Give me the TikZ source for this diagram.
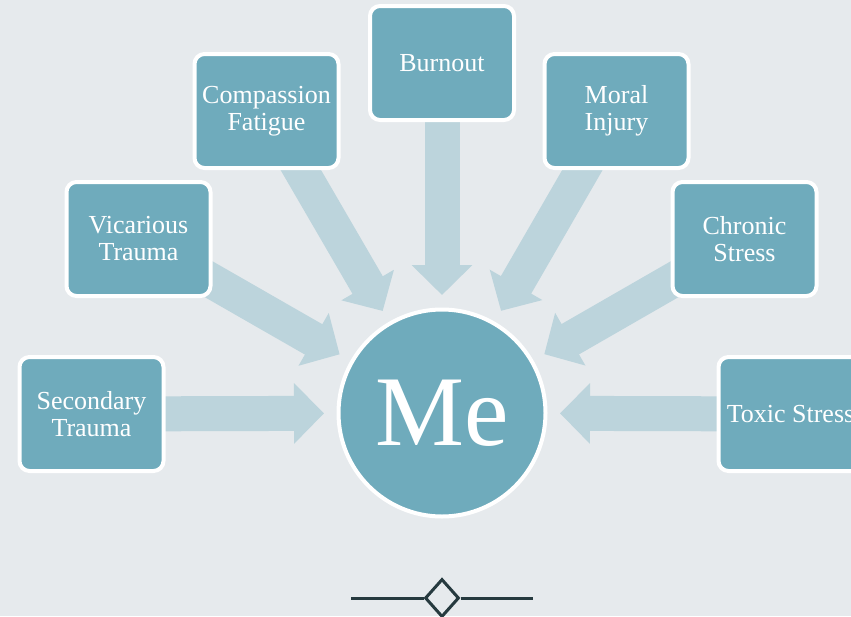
\documentclass[tikz,border=0pt]{standalone}
\usepackage{fontspec}
\setmainfont{Liberation Serif}
\usetikzlibrary{arrows.meta,calc,shapes.geometric}
\definecolor{pagebg}{HTML}{E6EAED}
\definecolor{boxteal}{HTML}{6FABBC}
\definecolor{flowblue}{HTML}{BCD4DC}
\definecolor{inkdark}{HTML}{263A3F}
\pgfdeclarelayer{back}
\pgfdeclarelayer{mid}
\pgfsetlayers{back,mid,main}
\begin{document}
\begin{tikzpicture}[x=1pt,y=-1pt,
  topic/.style={draw=white, line width=4pt, fill=boxteal, rounded corners=10pt,
    minimum width=144pt, minimum height=114pt, inner sep=0pt, text=white,
    font=\fontsize{26}{27}\selectfont, align=center},
  hub/.style={circle, draw=white, line width=4pt, fill=boxteal, minimum size=207pt,
    inner sep=0pt, text=white, font=\fontsize{100}{100}\selectfont},
  flow/.style={draw=flowblue, line width=35pt, -{Triangle[width=59pt,length=30pt]}},
  rule/.style={draw=inkdark, line width=3pt}]

\useasboundingbox (0,0) rectangle (851,616);
\begin{pgfonlayer}{back}
  \fill[pagebg] (0,0) rectangle (851,616);
\end{pgfonlayer}

% central circle
\node[hub] (me) at (442,413) {Me};

% surrounding topics
\node[topic] (secondary) at (91.5,414)  {Secondary\\Trauma};
\node[topic] (vicarious) at (138.5,239) {Vicarious\\Trauma};
\node[topic] (compassion) at (266.5,111) {Compassion\\Fatigue};
\node[topic] (burnout) at (442,63)      {Burnout};
\node[topic] (moral) at (616.5,111)     {Moral\\Injury};
\node[topic] (chronic) at (744.5,239)   {Chronic\\Stress};
\node[topic] (toxic) at (790.5,414)     {Toxic Stress};

% block arrows pointing at the circle
\begin{pgfonlayer}{mid}
  \foreach \src in {secondary,vicarious,compassion,burnout,moral,chronic,toxic}
    \draw[flow] (\src.center) -- ($(me.center)!118pt!(\src.center)$);
\end{pgfonlayer}

% ornament below
\node[diamond, rule, fill=pagebg, minimum width=34pt, minimum height=38pt,
  inner sep=0pt] (orn) at (442,598) {};
\coordinate (ornL) at (351,598);
\coordinate (ornR) at (533,598);
\draw[rule] (ornL) -- (orn.west);
\draw[rule] (orn.east) -- (ornR);
\end{tikzpicture}
\end{document}
